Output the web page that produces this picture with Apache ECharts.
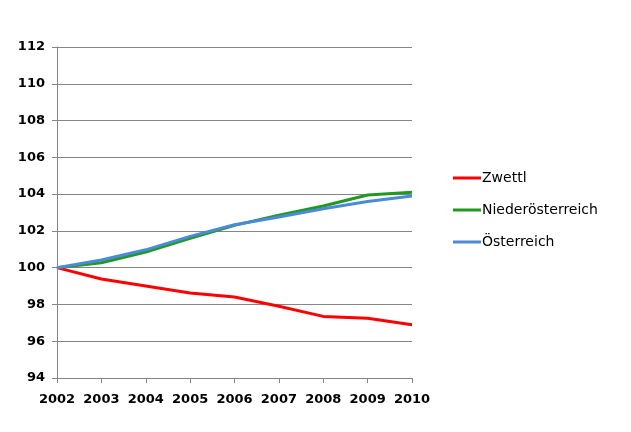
<!DOCTYPE html>
<html><head><meta charset="utf-8">
<script src="https://cdn.jsdelivr.net/npm/echarts@6/dist/echarts.min.js"></script>
<style>html,body{margin:0;padding:0;background:#fff}#c{width:631px;height:432px}</style>
</head><body><div id="c"></div>
<script>
const years = ['2002','2003','2004','2005','2006','2007','2008','2009','2010'];
const zwettl = [100, 99.38, 99.0, 98.62, 98.4, 97.9, 97.35, 97.25, 96.9];
const niederoesterreich = [100, 100.27, 100.85, 101.6, 102.3, 102.85, 103.35, 103.95, 104.1];
const oesterreich = [100, 100.42, 100.97, 101.7, 102.33, 102.75, 103.2, 103.6, 103.9];
const yTicks = {min: 94, max: 112, interval: 2};

const font = 'Verdana, "DejaVu Sans", sans-serif';
const chart = echarts.init(document.getElementById('c'), null, {renderer: 'canvas'});
const mk = (name, data, color) => ({
  name, type: 'line', data, symbol: 'none', smooth: false,
  lineStyle: {color, width: 3}, itemStyle: {color}
});
chart.setOption({
  animation: false,
  backgroundColor: '#fff',
  grid: {left: 57, right: 219, top: 47, bottom: 54},
  xAxis: {
    type: 'category', data: years, boundaryGap: false,
    axisLine: {lineStyle: {color: '#868686', width: 1}},
    axisTick: {show: true, length: 5, interval: 0, lineStyle: {color: '#868686'}},
    axisLabel: {color: '#000', fontFamily: font, fontWeight: 'bold', fontSize: 13, margin: 15, interval: 0},
    splitLine: {show: false}
  },
  yAxis: {
    type: 'value', min: yTicks.min, max: yTicks.max, interval: yTicks.interval,
    axisLine: {show: true, lineStyle: {color: '#868686', width: 1}},
    axisTick: {show: true, length: 5, lineStyle: {color: '#868686'}},
    axisLabel: {color: '#000', fontFamily: font, fontWeight: 'bold', fontSize: 13, margin: 12},
    splitLine: {show: true, lineStyle: {color: '#868686', width: 1}}
  },
  legend: {
    orient: 'vertical', left: 448, top: 166, itemGap: 18, padding: 5,
    icon: 'rect', itemWidth: 28, itemHeight: 3,
    textStyle: {color: '#000', fontFamily: font, fontSize: 14, padding: [0,0,0,-4]},
    data: ['Zwettl', 'Niederösterreich', 'Österreich']
  },
  series: [
    mk('Zwettl', zwettl, '#ff0000'),
    mk('Niederösterreich', niederoesterreich, '#1f9a1f'),
    mk('Österreich', oesterreich, '#4a8ad8')
  ]
});
</script></body></html>
